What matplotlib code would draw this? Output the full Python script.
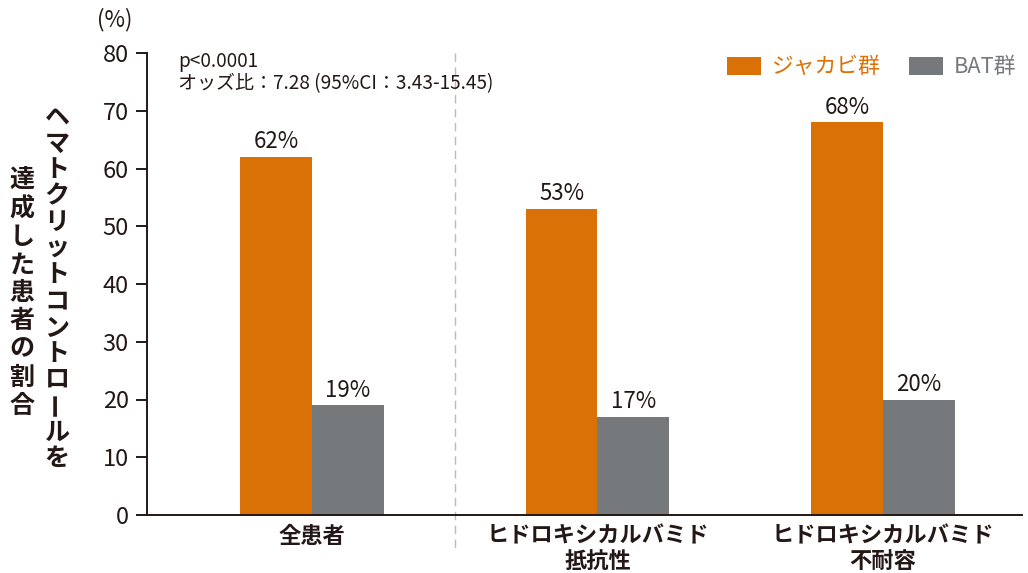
import matplotlib.pyplot as plt
import numpy as np

plt.rcParams['font.family'] = ['Noto Sans CJK JP', 'DejaVu Sans']

# data
categories = ['全患者', 'ヒドロキシカルバミド\n抵抗性', 'ヒドロキシカルバミド\n不耐容']
jakavi = [62, 53, 68]
bat = [19, 17, 20]
series_names = ['ジャカビ群', 'BAT群']
yticks = [0, 10, 20, 30, 40, 50, 60, 70, 80]
ylabel_col1 = 'ヘマトクリットコントロールを'
ylabel_col2 = '達成した患者の割合'
note = 'p<0.0001\nオッズ比：7.28 (95%CI：3.43-15.45)'

orange = '#D97106'
grey = '#76797C'
dark = '#231815'

W, H = 1028, 573
fig = plt.figure(figsize=(W / 100, H / 100), dpi=100)
ax = fig.add_axes([147 / W, 1 - 515 / H, (1022 - 147) / W, (515 - 53) / H])

x = np.arange(len(categories))
bw = 0.252
b1 = ax.bar(x - bw / 2, jakavi, bw, color=orange, label=series_names[0])
b2 = ax.bar(x + bw / 2, bat, bw, color=grey, label=series_names[1])

for bars, vals in ((b1, jakavi), (b2, bat)):
    for r, v in zip(bars, vals):
        ax.text(r.get_x() + r.get_width() / 2, v + 0.6, f'{v}%', ha='center', va='bottom',
                fontsize=16, color=dark)

ax.set_xlim(-0.578, 2.487)
ax.set_ylim(0, 80)
ax.set_yticks(yticks)
ax.tick_params(axis='y', labelsize=17, colors=dark, length=8, width=1.4, pad=5)
ax.tick_params(axis='x', length=0, pad=7)
ax.set_xticks(x)
ax.set_xticklabels(categories, fontsize=16, fontweight='bold', color=dark, linespacing=1.15)
for lbl in ax.get_xticklabels():
    lbl.set_va('top')

for s in ('top', 'right'):
    ax.spines[s].set_visible(False)
ax.spines['left'].set_color(dark)
ax.spines['left'].set_linewidth(1.4)
ax.spines['bottom'].set_color(dark)
ax.spines['bottom'].set_linewidth(1.4)

# dashed separator
ax.plot([0.5, 0.5], [80, -5.7], color='#BBBBBB', lw=1, ls=(0, (6, 4)), clip_on=False)

ax.text(-0.47, 80.4, note, fontsize=13.7, color=dark, va='top', ha='left', linespacing=1.1)
fig.text(97 / W, 1 - 20 / H, '(%)', fontsize=16, color=dark, va='center', ha='left')

leg = ax.legend(loc='upper right', bbox_to_anchor=(1.016, 1.035), ncol=2, frameon=False,
                fontsize=15.7, handlelength=1.55, handleheight=0.9, handletextpad=0.5,
                columnspacing=1.3)
for t, c in zip(leg.get_texts(), (orange, grey)):
    t.set_color(c)

# vertical y label (two columns, right column first)
def vertical(text, xc, ytop, pitch):
    for i, ch in enumerate(text):
        rot = 90 if ch == 'ー' else 0
        dy = -3 if ch == 'ー' else 0
        fig.text(xc / W, 1 - (ytop + i * pitch + dy) / H, ch, fontsize=18, fontweight='bold',
                 color=dark, ha='center', va='center', rotation=rot)

vertical(ylabel_col1, 57, 118, 26.2)
vertical(ylabel_col2, 22, 181, 28.1)

fig.savefig('out.png', dpi=100)
